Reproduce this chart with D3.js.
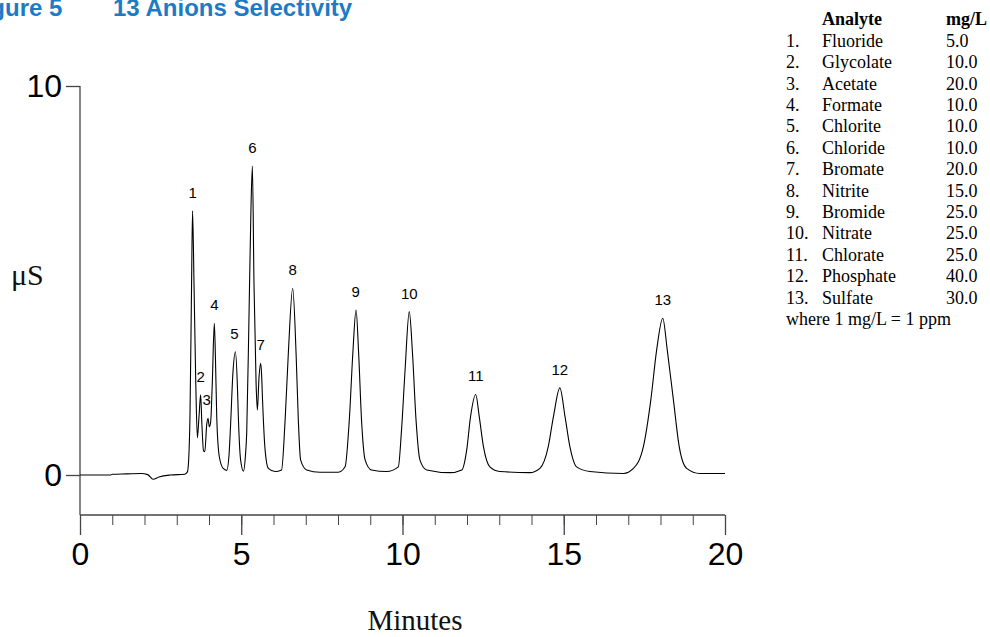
<!DOCTYPE html>
<html><head><meta charset="utf-8">
<script src="https://cdn.jsdelivr.net/npm/d3@7/dist/d3.min.js"></script>
<style>
html,body{margin:0;padding:0;background:#fff;}
svg{display:block;}
</style></head>
<body>
<svg id="chart" width="990" height="637"></svg>
<script>
// ---- data ----
const timeMin = [0,0.95,1.0,1.45,1.9,2.1,2.27,2.45,2.8,3.25,3.33,3.37,3.41,3.46,3.49,3.535,3.59,3.64,3.69,3.74,3.78,3.83,3.87,3.93,3.97,4.01,4.05,4.10,4.165,4.20,4.24,4.32,4.44,4.55,4.62,4.67,4.74,4.82,4.88,4.91,4.98,5.07,5.13,5.17,5.24,5.30,5.345,5.395,5.46,5.50,5.55,5.60,5.63,5.66,5.74,5.84,6.05,6.25,6.36,6.46,6.595,6.70,6.77,6.84,7.03,7.44,8.01,8.22,8.35,8.46,8.56,8.64,8.73,8.84,9.04,9.51,9.87,9.97,10.08,10.21,10.31,10.42,10.54,10.75,11.47,11.84,11.99,12.11,12.27,12.38,12.51,12.71,13.02,13.95,14.26,14.52,14.68,14.88,15.04,15.19,15.40,15.81,16.85,17.16,17.47,17.70,17.88,18.07,18.21,18.40,18.58,18.81,19.22,20.0];
const signalUS = [0,0,0.02,0.03,0.04,0.01,-0.11,-0.05,0.0,0.02,0.08,0.4,1.5,4.93,6.79,4.93,2.36,0.96,1.5,2.06,1.3,0.62,0.6,1.3,1.46,1.24,1.35,2.3,3.9,3.0,1.5,0.47,0.17,0.12,0.5,1.3,2.6,3.17,2.3,1.5,0.39,0.1,0.5,1.1,4.07,6.8,7.94,4.93,2.36,1.67,2.5,2.87,2.6,1.93,0.64,0.17,0.09,0.13,1.41,3.13,4.80,3.13,1.41,0.39,0.13,0.07,0.07,0.21,1.41,3.13,4.24,3.13,1.41,0.39,0.13,0.09,0.21,1.16,2.7,4.20,3.13,1.41,0.39,0.13,0.06,0.13,0.64,1.5,2.07,1.5,0.73,0.21,0.09,0.06,0.17,0.73,1.5,2.24,1.5,0.73,0.21,0.09,0.04,0.17,0.73,1.93,3.21,4.03,3.21,1.93,0.73,0.17,0.04,0.04];

const peakLabels = ["1","2","3","4","5","6","7","8","9","10","11","12","13"];
const peakTimes  = [3.49,3.74,3.93,4.165,4.79,5.345,5.60,6.595,8.55,10.21,12.27,14.88,18.07];
const peakHeights= [6.79,2.06,1.46,3.9,3.17,7.94,2.87,4.80,4.24,4.20,2.07,2.24,4.03];

const xTickMajor = [0,5,10,15,20];
const xTickMinor = d3.range(0,21,1);
const yTicks = [0,10];

const analyteNames = ["Fluoride","Glycolate","Acetate","Formate","Chlorite","Chloride","Bromate","Nitrite","Bromide","Nitrate","Chlorate","Phosphate","Sulfate"];
const analyteConc  = ["5.0","10.0","20.0","10.0","10.0","10.0","20.0","15.0","25.0","25.0","25.0","40.0","30.0"];

// ---- drawing ----
const svg = d3.select("#chart");
const x = d3.scaleLinear().domain([0,20]).range([80,725]);
const y = d3.scaleLinear().domain([0,10]).range([475,86]);
const axisY = 515;
const axisColor = "#444";
const sans = "Arial, 'Liberation Sans', sans-serif";
const serif = "'Times New Roman', 'Liberation Serif', serif";

// title
const blue = "#1d7bc6";
svg.append("text").attr("x",-31).attr("y",16).attr("font-family",sans).attr("font-weight","bold")
  .attr("font-size",24).attr("fill",blue).text("Figure 5");
svg.append("text").attr("x",113).attr("y",16).attr("font-family",sans).attr("font-weight","bold")
  .attr("font-size",24).attr("fill",blue).text("13 Anions Selectivity");

// y axis
const gy = svg.append("g").attr("transform","translate(80,0)")
  .call(d3.axisLeft(y).tickValues(yTicks).tickSize(14).tickPadding(4).tickFormat(d3.format("d")));
gy.select(".domain").remove();
gy.selectAll(".tick line").attr("stroke",axisColor).attr("stroke-width",1.3);
gy.selectAll(".tick text").attr("font-family",sans).attr("font-size",32).attr("fill","#000");
svg.append("line").attr("x1",80).attr("x2",80).attr("y1",y(10)).attr("y2",axisY)
  .attr("stroke",axisColor).attr("stroke-width",1.3);

// x axis minor
const gxm = svg.append("g").attr("transform",`translate(0,${axisY})`)
  .call(d3.axisBottom(x).tickValues(xTickMinor).tickSize(10).tickFormat(""));
gxm.select(".domain").attr("stroke",axisColor).attr("stroke-width",1.3).attr("d",`M${x(0)},0H${x(20)}`);
gxm.selectAll(".tick line").attr("stroke",axisColor).attr("stroke-width",1);
// x axis major
const gx = svg.append("g").attr("transform",`translate(0,${axisY})`)
  .call(d3.axisBottom(x).tickValues(xTickMajor).tickSize(20).tickPadding(7).tickFormat(d3.format("d")));
gx.select(".domain").remove();
gx.selectAll(".tick line").attr("stroke",axisColor).attr("stroke-width",1.3);
gx.selectAll(".tick text").attr("font-family",sans).attr("font-size",32).attr("fill","#000");

// axis titles
svg.append("text").attr("x",11).attr("y",285).attr("font-family",serif).attr("font-size",30)
  .attr("fill","#111").text("\u03bcS");
svg.append("text").attr("x",415).attr("y",630).attr("text-anchor","middle").attr("font-family",serif)
  .attr("font-size",29).attr("fill","#111").text("Minutes");

// trace
const pts = timeMin.map((t,i)=>[t,signalUS[i]]);
svg.append("path").datum(pts)
  .attr("d", d3.line().x(d=>x(d[0])).y(d=>y(d[1])).curve(d3.curveMonotoneX))
  .attr("fill","none").attr("stroke","#000").attr("stroke-width",1.1);

// peak labels
svg.selectAll("text.pk").data(peakLabels).join("text").attr("class","pk")
  .attr("x",(d,i)=>x(peakTimes[i])).attr("y",(d,i)=>y(peakHeights[i])-13)
  .attr("text-anchor","middle").attr("font-family",sans).attr("font-size",15).attr("fill","#000")
  .text(d=>d);

// legend table
const lg = svg.append("g").attr("font-family",serif).attr("font-size",18).attr("fill","#000");
lg.append("text").attr("x",822).attr("y",25).attr("font-weight","bold").text("Analyte");
lg.append("text").attr("x",946).attr("y",25).attr("font-weight","bold").text("mg/L");
analyteNames.forEach((n,i)=>{
  const yy = 46.7 + i*21.4;
  lg.append("text").attr("x",786).attr("y",yy).text((i+1)+".");
  lg.append("text").attr("x",822).attr("y",yy).text(n);
  lg.append("text").attr("x",946).attr("y",yy).text(analyteConc[i]);
});
lg.append("text").attr("x",786).attr("y",46.7+13*21.4).text("where 1 mg/L = 1 ppm");
</script>
</body></html>
